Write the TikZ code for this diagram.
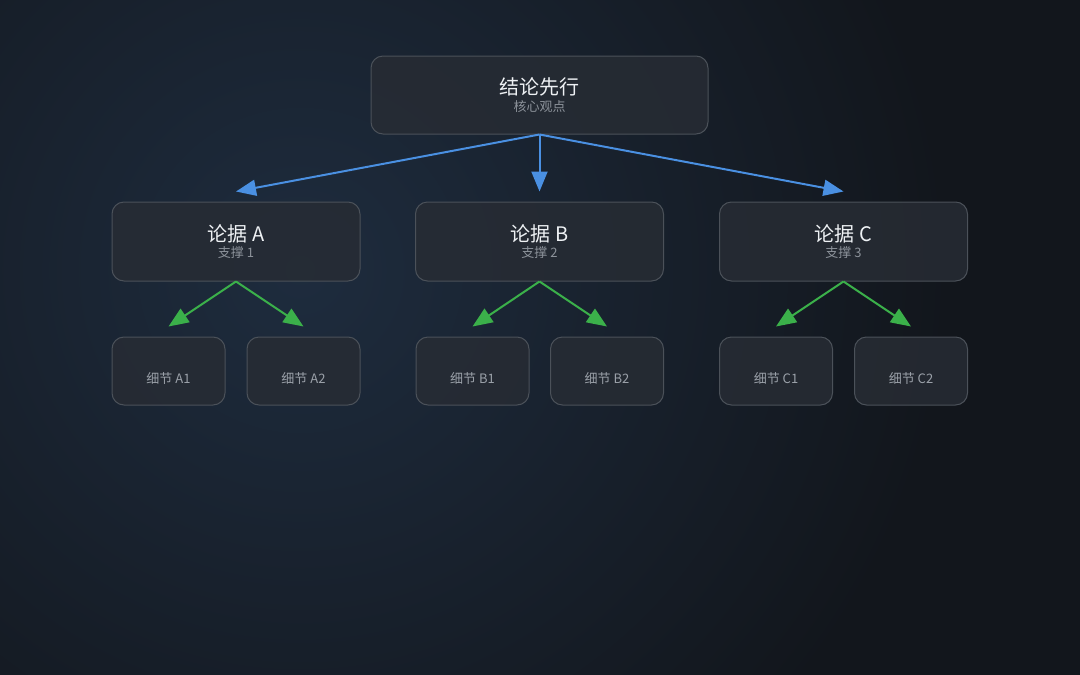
\documentclass[tikz,border=0pt]{standalone}
\usepackage{fontspec}
\setmainfont{Noto Sans CJK SC}
\usepackage{tikz}
\usetikzlibrary{arrows.meta}
\definecolor{bgdark}{HTML}{12161C}
\definecolor{bgglow}{HTML}{1E2C3E}
\definecolor{boxfill}{HTML}{272C34}
\definecolor{boxline}{HTML}{4B5159}
\definecolor{titletext}{HTML}{EEF1F4}
\definecolor{subtext}{HTML}{8C929A}
\definecolor{leaftext}{HTML}{9BA1A9}
\definecolor{linkblue}{HTML}{4A90E2}
\definecolor{linkgreen}{HTML}{3BB04A}
\newcommand{\treetitlefont}{\fontsize{20}{20}\selectfont}
\newcommand{\treesubfont}{\linespread{1}\fontsize{13}{18.5}\selectfont}
\tikzset{
    tree/chart/.style={x=1pt, y=-1pt, every node/.style={align=center}},
    tree/box/.style={rectangle, rounded corners=12pt, draw=boxline, fill=boxfill, fill opacity=0.85, text opacity=1, line width=1pt, inner sep=0pt, font=\treesubfont},
    tree/root/.style={tree/box, minimum width=337pt, minimum height=78pt},
    tree/claim/.style={tree/box, minimum width=248pt, minimum height=79pt},
    tree/leaf/.style={tree/box, minimum width=113pt, minimum height=68pt, text=leaftext},
    tree/blue/.style={-{Triangle[length=20pt,width=16pt]}, line width=2pt, draw=linkblue, fill=linkblue},
    tree/green/.style={-{Triangle[length=20pt,width=16pt]}, line width=2pt, draw=linkgreen, fill=linkgreen}
}
\newcommand{\boxtext}[2]{\raisebox{-2pt}{{\treetitlefont\color{titletext}#1}}\\{\color{subtext}#2}}
\newcommand{\leaftext}[1]{\raisebox{-12pt}[0pt][0pt]{#1}}
\begin{document}
\begin{tikzpicture}[tree/chart]
    % background
    \useasboundingbox (0,0) rectangle (1080,675);
    \fill[bgdark] (0,0) rectangle (1080,675);
    \begin{scope}
        \clip (0,0) rectangle (1080,675);
        \shade[inner color=bgglow, outer color=bgdark] (300,270) circle (650);
    \end{scope}
    % nodes
    \node[tree/root] (root) at (539.5,95) {\boxtext{结论先行}{核心观点}};
    \node[tree/claim] (claimA) at (236,241.5) {\boxtext{论据 A}{支撑 1}};
    \node[tree/claim] (claimB) at (539.5,241.5) {\boxtext{论据 B}{支撑 2}};
    \node[tree/claim] (claimC) at (843.5,241.5) {\boxtext{论据 C}{支撑 3}};
    \node[tree/leaf] (leafA1) at (168.5,371) {\leaftext{细节 A1}};
    \node[tree/leaf] (leafA2) at (303.5,371) {\leaftext{细节 A2}};
    \node[tree/leaf] (leafB1) at (472.5,371) {\leaftext{细节 B1}};
    \node[tree/leaf] (leafB2) at (607,371) {\leaftext{细节 B2}};
    \node[tree/leaf] (leafC1) at (776,371) {\leaftext{细节 C1}};
    \node[tree/leaf] (leafC2) at (911,371) {\leaftext{细节 C2}};
    % connectors
    \foreach \target in {claimA,claimB,claimC}
        \draw[tree/blue] (root.south) -- ([yshift=10pt]\target.north);
    \foreach \source/\target in {claimA/leafA1,claimA/leafA2,claimB/leafB1,claimB/leafB2,claimC/leafC1,claimC/leafC2}
        \draw[tree/green] (\source.south) -- ([yshift=10pt]\target.north);
\end{tikzpicture}
\end{document}
